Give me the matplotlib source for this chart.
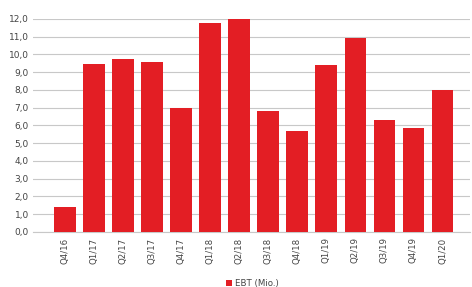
import matplotlib.pyplot as plt
from matplotlib.ticker import FuncFormatter

quarters = ["Q4/16", "Q1/17", "Q2/17", "Q3/17", "Q4/17", "Q1/18", "Q2/18",
            "Q3/18", "Q4/18", "Q1/19", "Q2/19", "Q3/19", "Q4/19", "Q1/20"]
ebt = [1.4, 9.45, 9.75, 9.6, 7.0, 11.75, 12.0,
       6.8, 5.7, 9.4, 10.9, 6.3, 5.85, 8.0]

RED = "#e31e24"

fig = plt.figure(figsize=(4.72, 2.87), dpi=100)
ax = fig.add_axes([0.07, 0.192, 0.926, 0.742])

x = range(len(quarters))
ax.bar(x, ebt, width=0.75, color=RED, label="EBT (Mio.)", zorder=3)

ax.set_ylim(0, 12)
ax.set_yticks(range(0, 13))
ax.yaxis.set_major_formatter(FuncFormatter(lambda v, p: f"{v:.1f}".replace(".", ",")))
ax.set_xlim(-1.1, 13.95)
ax.set_xticks(list(x))
ax.set_xticklabels(quarters, rotation=90, fontsize=6.2, color="#444444")
ax.tick_params(axis="y", labelsize=6.5, colors="#444444", length=0, pad=3)
ax.tick_params(axis="x", length=0, pad=4)

ax.grid(axis="y", color="#c8c8c8", linewidth=0.8, zorder=0)
for s in ["top", "right", "left"]:
    ax.spines[s].set_visible(False)
ax.spines["bottom"].set_color("#c8c8c8")

fig.legend(loc="lower center", bbox_to_anchor=(0.535, -0.03), frameon=False,
           fontsize=6.2, handlelength=0.7, handleheight=0.7, handletextpad=0.4,
           labelcolor="#444444")

fig.savefig("out.png", dpi=100)
